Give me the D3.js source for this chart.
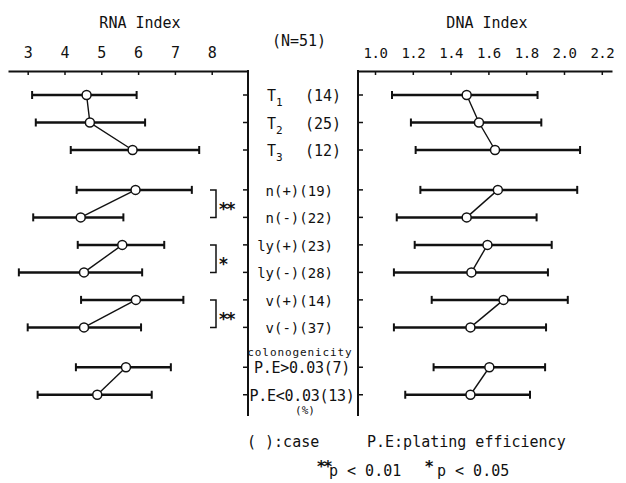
<!DOCTYPE html>
<html>
<head>
<meta charset="utf-8">
<script src="https://cdn.jsdelivr.net/npm/d3@7"></script>
<style>
  body { margin: 0; background: #fff; }
  svg text { font-family: "DejaVu Sans Mono", monospace; fill: #111; }
  svg text.star { font-family: "DejaVu Sans", sans-serif; font-weight: bold; }
</style>
</head>
<body>
<div id="chart"></div>
<script>
// rows of the chart, top to bottom
const rows = ["T1", "T2", "T3", "n(+)", "n(-)", "ly(+)", "ly(-)", "v(+)", "v(-)", "P.E>0.03", "P.E<0.03"];
const cases = [14, 25, 12, 19, 22, 23, 28, 14, 37, 7, 13];
const groups = [0, 0, 0, 1, 1, 2, 2, 3, 3, 4, 4];
const sections = [0, 0, 0, 1, 1, 1, 1, 1, 1, 2, 2];

// RNA index: mean and bar ends
const rnaMean = [4.60, 4.69, 5.85, 5.93, 4.44, 5.57, 4.53, 5.94, 4.53, 5.67, 4.89];
const rnaLow  = [3.12, 3.22, 4.17, 4.33, 3.15, 4.36, 2.76, 4.45, 3.00, 4.31, 3.27];
const rnaHigh = [5.96, 6.19, 7.66, 7.46, 5.60, 6.71, 6.11, 7.23, 6.08, 6.89, 6.37];

// DNA index: mean and bar ends
const dnaMean = [1.485, 1.55, 1.635, 1.65, 1.485, 1.595, 1.51, 1.68, 1.505, 1.605, 1.505];
const dnaLow  = [1.09, 1.19, 1.215, 1.24, 1.115, 1.21, 1.10, 1.30, 1.10, 1.31, 1.16];
const dnaHigh = [1.86, 1.88, 2.085, 2.07, 1.855, 1.935, 1.915, 2.02, 1.905, 1.90, 1.82];

const rnaTicks = [3, 4, 5, 6, 7, 8];
const dnaTicks = [1.0, 1.2, 1.4, 1.6, 1.8, 2.0, 2.2];

const sigGroups = [1, 2, 3];
const sigMarks = ["**", "*", "**"];

const width = 626, height = 483;

const svg = d3.select('#chart').append('svg')
  .attr('width', width)
  .attr('height', height);

const axisTop = 71, axisBottom = 416;

const xR = d3.scaleLinear().domain([2.465, 8.986]).range([8, 248]);
const xD = d3.scaleLinear().domain([0.910, 2.254]).range([358, 612]);

// row slot -> pixel
const slot = i => i + 0.45 * sections[i];
const yS = d3.scaleLinear().domain([0, 1]).range([95, 122.5]);
const y = i => yS(slot(i));

const data = rows.map((r, i) => ({
  label: r, n: cases[i], g: groups[i], i: i,
  rm: rnaMean[i], rl: rnaLow[i], rh: rnaHigh[i],
  dm: dnaMean[i], dl: dnaLow[i], dh: dnaHigh[i]
}));

// titles
svg.append('text').attr('x', 140).attr('y', 28).attr('text-anchor', 'middle')
  .style('font-size', '15px').text('RNA Index');
svg.append('text').attr('x', 487).attr('y', 28).attr('text-anchor', 'middle')
  .style('font-size', '15px').text('DNA Index');
svg.append('text').attr('x', 299).attr('y', 46).attr('text-anchor', 'middle')
  .style('font-size', '15px').text('(N=51)');

// top axes
const gR = svg.append('g').attr('transform', `translate(0,${axisTop})`)
  .call(d3.axisTop(xR).tickValues(rnaTicks).tickFormat(d3.format('d')).tickSize(-4).tickSizeOuter(0).tickPadding(13));
const gD = svg.append('g').attr('transform', `translate(0,${axisTop})`)
  .call(d3.axisTop(xD).tickValues(dnaTicks).tickFormat(d3.format('.1f')).tickSize(-4).tickSizeOuter(0).tickPadding(13));

[gR, gD].forEach(g => {
  g.select('.domain').attr('stroke', '#111').attr('stroke-width', 2);
  g.selectAll('.tick line').attr('stroke', '#111').attr('stroke-width', 1.5);
  g.selectAll('.tick text').attr('fill', '#111').style('font-size', '15px').style('font-family', '"DejaVu Sans Mono", monospace');
});
gD.selectAll('.tick text').style('font-size', '14px').style('letter-spacing', '-0.5px');

// vertical axes
svg.append('line').attr('x1', 248).attr('x2', 248).attr('y1', axisTop - 1).attr('y2', axisBottom)
  .attr('stroke', '#111').attr('stroke-width', 2);
svg.append('line').attr('x1', 358).attr('x2', 358).attr('y1', axisTop - 1).attr('y2', axisBottom)
  .attr('stroke', '#111').attr('stroke-width', 2);

svg.selectAll('.ytickL').data(data).join('line')
  .attr('x1', 243).attr('x2', 248)
  .attr('y1', d => y(d.i)).attr('y2', d => y(d.i))
  .attr('stroke', '#111').attr('stroke-width', 1.5);
svg.selectAll('.ytickR').data(data).join('line')
  .attr('x1', 358).attr('x2', 363)
  .attr('y1', d => y(d.i)).attr('y2', d => y(d.i))
  .attr('stroke', '#111').attr('stroke-width', 1.5);

// error bars + connectors + circles
const drawPanel = (x, lo, hi, mid) => {
  const g = svg.append('g');

  g.selectAll('.bar').data(data).join('line')
    .attr('x1', d => x(d[lo])).attr('x2', d => x(d[hi]))
    .attr('y1', d => y(d.i)).attr('y2', d => y(d.i))
    .attr('stroke', '#111').attr('stroke-width', 2.5);

  [lo, hi].forEach(k => {
    g.selectAll('.cap' + k).data(data).join('line')
      .attr('x1', d => x(d[k])).attr('x2', d => x(d[k]))
      .attr('y1', d => y(d.i) - 4).attr('y2', d => y(d.i) + 4)
      .attr('stroke', '#111').attr('stroke-width', 2);
  });

  d3.groups(data, d => d.g).forEach(([key, vals]) => {
    g.append('path')
      .attr('d', d3.line().x(d => x(d[mid])).y(d => y(d.i))(vals))
      .attr('fill', 'none').attr('stroke', '#111').attr('stroke-width', 1.4);
  });

  g.selectAll('circle').data(data).join('circle')
    .attr('cx', d => x(d[mid])).attr('cy', d => y(d.i)).attr('r', 4.5)
    .attr('fill', '#fff').attr('stroke', '#111').attr('stroke-width', 1.5);
};

drawPanel(xR, 'rl', 'rh', 'rm');
drawPanel(xD, 'dl', 'dh', 'dm');

// middle labels
const labG = svg.append('g');
data.forEach(d => {
  const yy = y(d.i);
  if (d.label[0] === 'T') {
    const t = labG.append('text').attr('x', 267).attr('y', yy + 6).style('font-size', '15px');
    t.append('tspan').text('T');
    t.append('tspan').attr('dy', 5).style('font-size', '11px').text(d.label.slice(1));
    labG.append('text').attr('x', 305).attr('y', yy + 6).style('font-size', '15px').text(`(${d.n})`);
  } else if (d.label.startsWith('P.E')) {
    labG.append('text').attr('x', 302).attr('y', yy + 6).attr('text-anchor', 'middle')
      .style('font-size', '15px').style('letter-spacing', '-0.3px').text(`${d.label}(${d.n})`);
  } else {
    labG.append('text').attr('x', 333).attr('y', yy + 6).attr('text-anchor', 'end')
      .style('font-size', '14px').text(`${d.label}(${d.n})`);
  }
});

const peRows = data.filter(d => d.g === 4);
labG.append('text').attr('x', 300).attr('y', y(peRows[0].i) - 11).attr('text-anchor', 'middle')
  .style('font-size', '11px').style('letter-spacing', '0.9px').text('colonogenicity');
labG.append('text').attr('x', 305).attr('y', y(peRows[1].i) + 19).attr('text-anchor', 'middle')
  .style('font-size', '11px').text('(%)');

// significance brackets
sigGroups.forEach((gi, k) => {
  const pair = data.filter(d => d.g === gi);
  const y0 = y(pair[0].i), y1 = y(pair[1].i);
  svg.append('path')
    .attr('d', `M210,${y0}H216V${y1}H210`)
    .attr('fill', 'none').attr('stroke', '#111').attr('stroke-width', 1.5);
  svg.append('text').attr('class', 'star').attr('x', 219).attr('y', (y0 + y1) / 2 + 11)
    .style('font-size', '17px').style('letter-spacing', '-1.5px')
    .text(sigMarks[k]);
});

// footer
svg.append('text').attr('x', 247).attr('y', 447).style('font-size', '15px').text('( ):case');
svg.append('text').attr('x', 367).attr('y', 447).style('font-size', '15px').text('P.E:plating efficiency');
svg.append('text').attr('class', 'star').attr('x', 317).attr('y', 472).style('font-size', '16px')
  .style('letter-spacing', '-1.5px').text('**');
svg.append('text').attr('x', 329).attr('y', 476).style('font-size', '15px').text('p < 0.01');
svg.append('text').attr('class', 'star').attr('x', 425).attr('y', 472).style('font-size', '16px').text('*');
svg.append('text').attr('x', 437).attr('y', 476).style('font-size', '15px').text('p < 0.05');
</script>
</body>
</html>
